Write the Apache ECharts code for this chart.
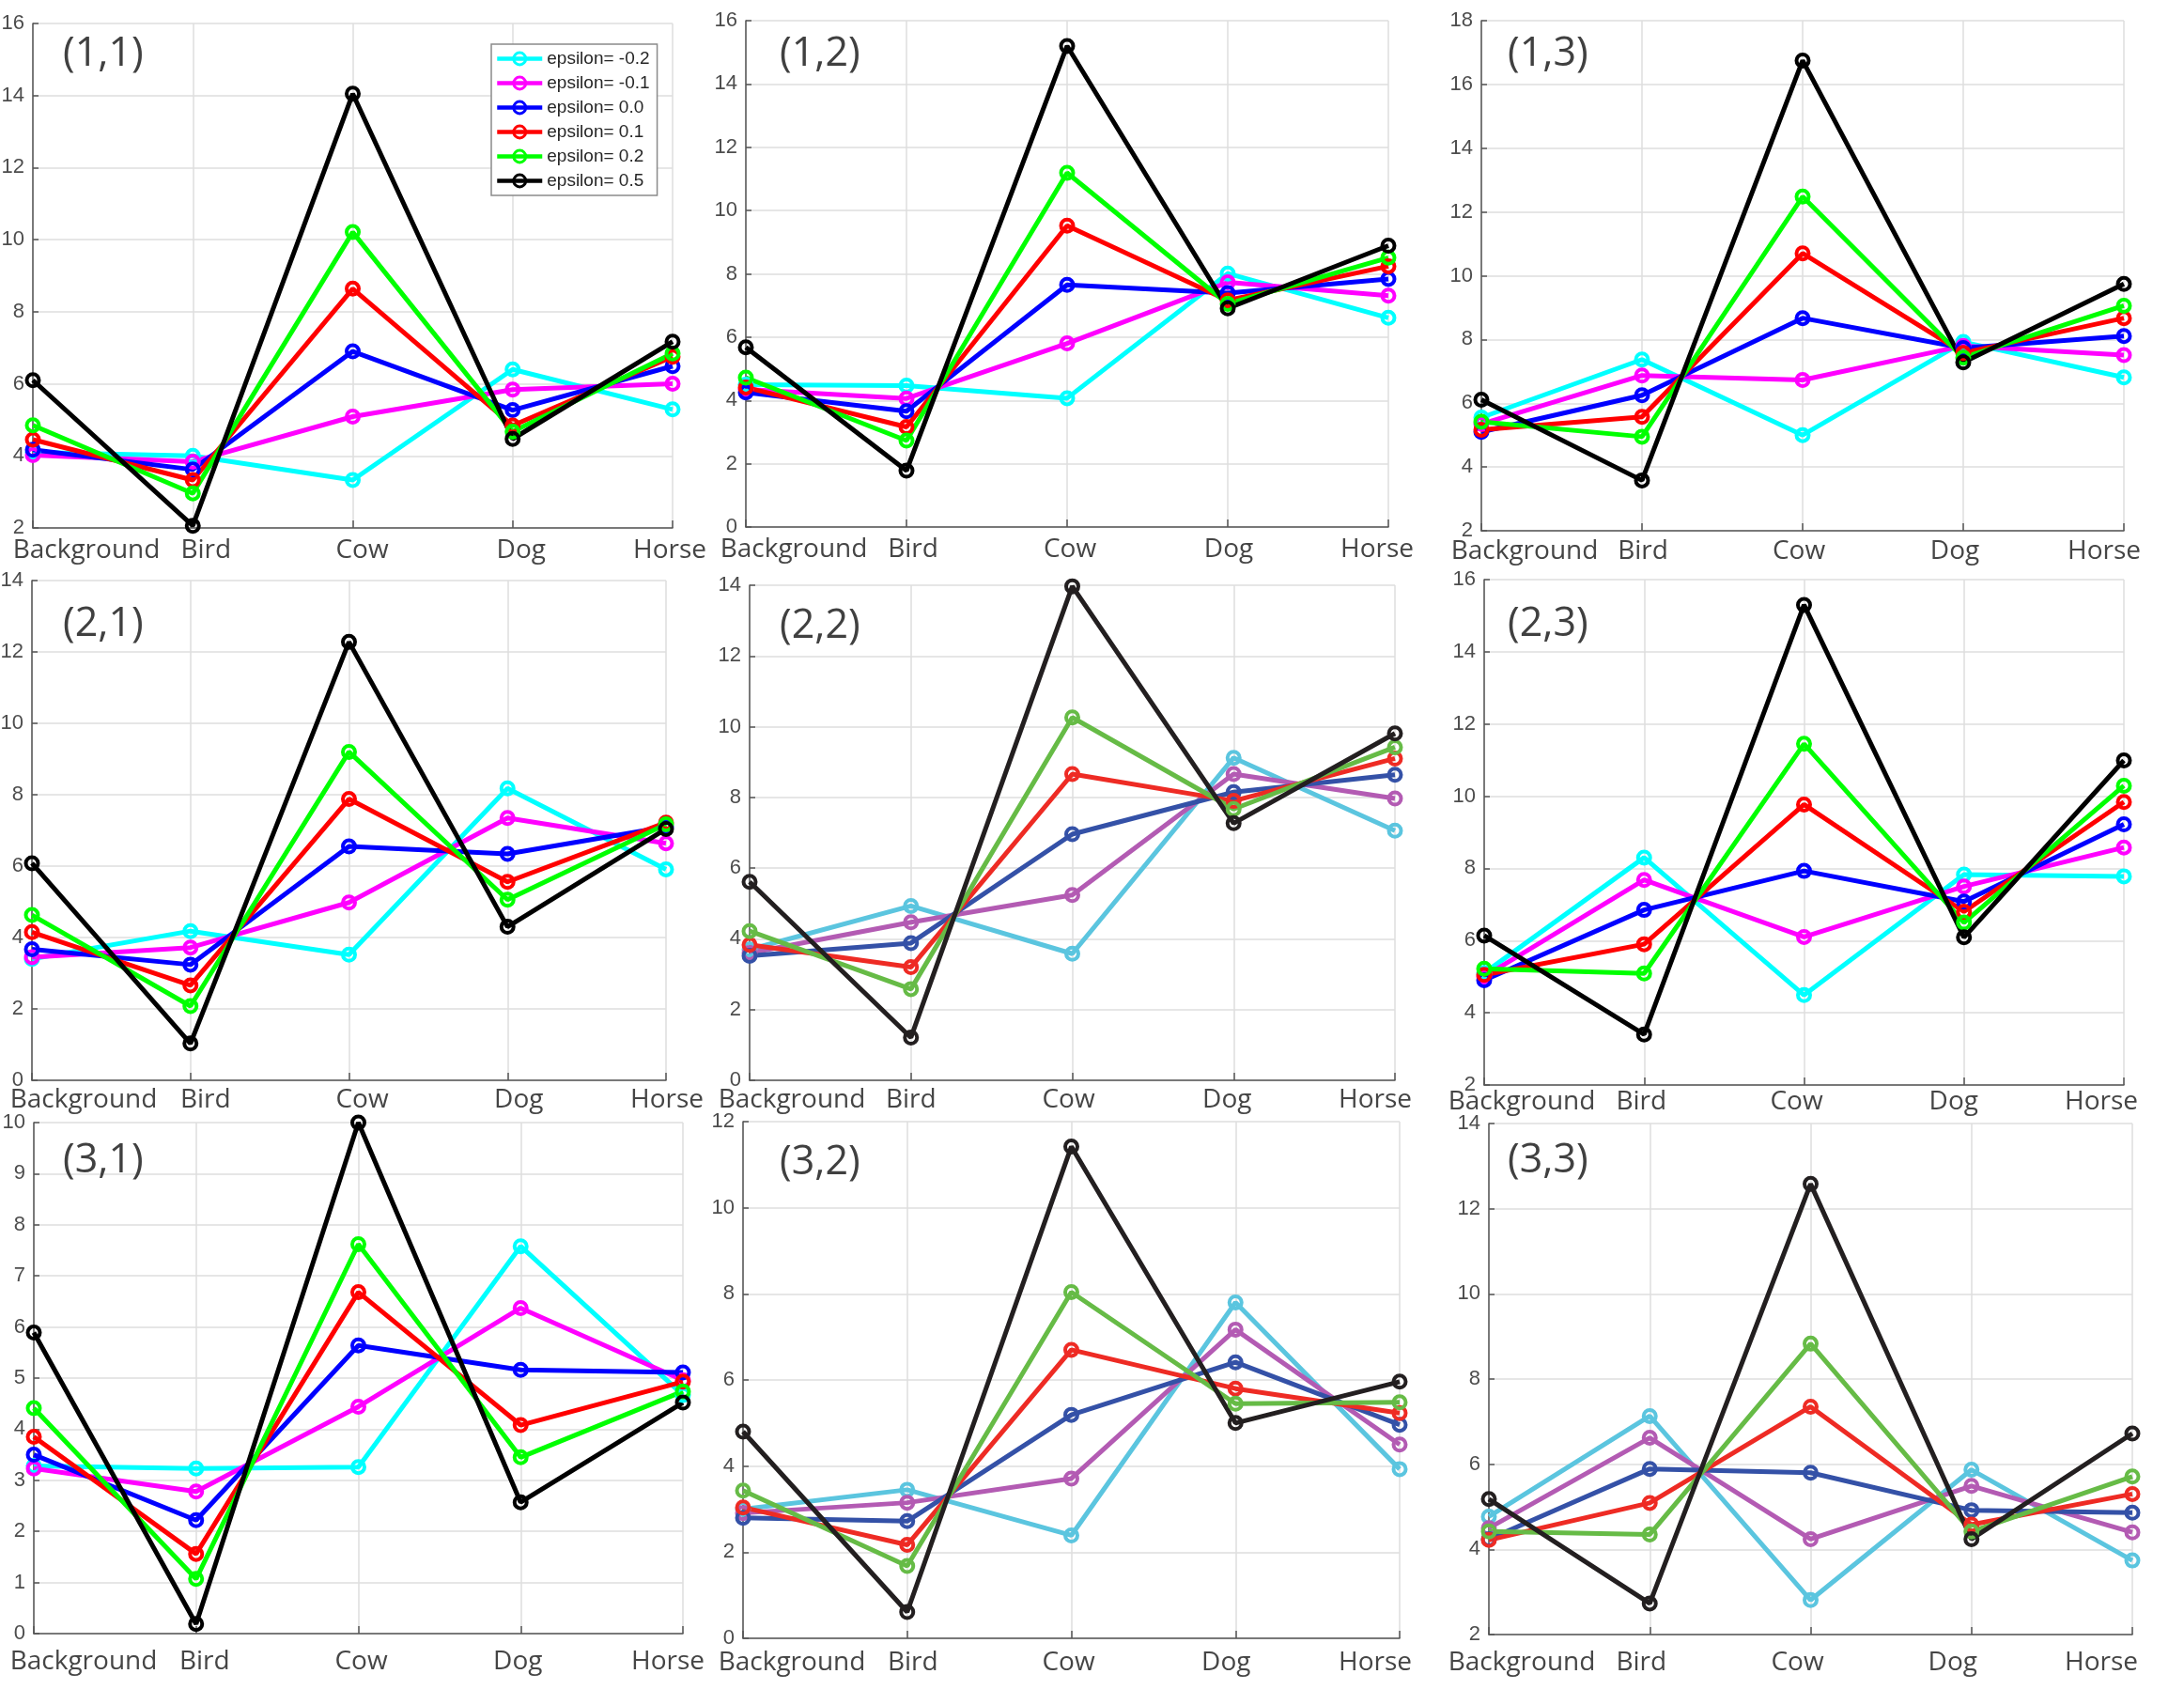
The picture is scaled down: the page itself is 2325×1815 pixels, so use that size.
<!DOCTYPE html>
<html><head><meta charset="utf-8">
<script src="https://cdn.jsdelivr.net/npm/echarts@6/dist/echarts.min.js"></script>
<style>html,body{margin:0;padding:0;background:#fff}#c{width:2325px;height:1815px}</style>
</head><body><div id="c"></div>
<script>
// ---------- data ----------
const categories = ['Background', 'Bird', 'Cow', 'Dog', 'Horse'];
const seriesNames = ['epsilon= -0.2', 'epsilon= -0.1', 'epsilon= 0.0', 'epsilon= 0.1', 'epsilon= 0.2', 'epsilon= 0.5'];
const panelLabels = ['(1,1)', '(1,2)', '(1,3)', '(2,1)', '(2,2)', '(2,3)', '(3,1)', '(3,2)', '(3,3)'];
const yMin = [2, 0, 2, 0, 0, 2, 0, 0, 2];
const yMax = [16, 16, 18, 14, 14, 16, 10, 12, 14];
const yStep = [2, 2, 2, 2, 2, 2, 1, 2, 2];

// rows: eps -0.2, -0.1, 0.0, 0.1, 0.2, 0.5 ; columns: categories
const panel11 = [
  [4.10, 4.00, 3.33, 6.40, 5.29],
  [4.02, 3.84, 5.09, 5.84, 6.00],
  [4.17, 3.62, 6.90, 5.27, 6.49],
  [4.45, 3.33, 8.64, 4.84, 6.75],
  [4.85, 2.96, 10.21, 4.67, 6.84],
  [6.10, 2.06, 14.05, 4.47, 7.17]
];
const panel12 = [
  [4.50, 4.47, 4.07, 8.01, 6.61],
  [4.35, 4.06, 5.80, 7.73, 7.31],
  [4.25, 3.66, 7.65, 7.39, 7.84],
  [4.41, 3.16, 9.52, 7.16, 8.24],
  [4.72, 2.73, 11.19, 7.05, 8.51],
  [5.68, 1.78, 15.20, 6.91, 8.89]
];
const panel13 = [
  [5.55, 7.37, 5.00, 7.92, 6.81],
  [5.35, 6.87, 6.73, 7.80, 7.51],
  [5.10, 6.25, 8.67, 7.73, 8.11],
  [5.17, 5.57, 10.70, 7.58, 8.67],
  [5.42, 4.95, 12.48, 7.43, 9.06],
  [6.11, 3.58, 16.75, 7.28, 9.74]
];
const panel21 = [
  [3.40, 4.18, 3.52, 8.18, 5.91],
  [3.45, 3.72, 4.98, 7.35, 6.64],
  [3.67, 3.24, 6.55, 6.34, 7.10],
  [4.15, 2.66, 7.88, 5.56, 7.22],
  [4.63, 2.08, 9.20, 5.06, 7.17],
  [6.08, 1.03, 12.28, 4.30, 7.04]
];
const panel22 = [
  [3.70, 4.93, 3.58, 9.12, 7.06],
  [3.60, 4.47, 5.24, 8.66, 7.97],
  [3.52, 3.88, 6.96, 8.15, 8.64],
  [3.83, 3.20, 8.66, 7.90, 9.10],
  [4.22, 2.58, 10.26, 7.67, 9.42],
  [5.61, 1.21, 13.97, 7.27, 9.81]
];
const panel23 = [
  [5.10, 8.30, 4.49, 7.83, 7.78],
  [5.00, 7.68, 6.10, 7.50, 8.58],
  [4.90, 6.85, 7.93, 7.08, 9.22],
  [5.05, 5.90, 9.77, 6.80, 9.84],
  [5.22, 5.09, 11.45, 6.50, 10.29],
  [6.14, 3.40, 15.30, 6.09, 10.99]
];
const panel31 = [
  [3.28, 3.23, 3.26, 7.58, 4.67],
  [3.23, 2.78, 4.44, 6.37, 4.96],
  [3.50, 2.22, 5.64, 5.16, 5.11],
  [3.85, 1.56, 6.68, 4.08, 4.93],
  [4.41, 1.07, 7.62, 3.45, 4.74],
  [5.89, 0.19, 10.00, 2.57, 4.52]
];
const panel32 = [
  [3.00, 3.45, 2.39, 7.80, 3.93],
  [2.91, 3.15, 3.71, 7.17, 4.50],
  [2.80, 2.72, 5.19, 6.41, 4.96],
  [3.04, 2.17, 6.70, 5.80, 5.23],
  [3.43, 1.68, 8.04, 5.45, 5.48],
  [4.80, 0.61, 11.42, 5.00, 5.96]
];
const panel33 = [
  [4.77, 7.13, 2.81, 5.87, 3.74],
  [4.50, 6.62, 4.24, 5.49, 4.40],
  [4.24, 5.89, 5.80, 4.92, 4.86],
  [4.22, 5.09, 7.35, 4.58, 5.30],
  [4.42, 4.35, 8.83, 4.42, 5.71],
  [5.18, 2.73, 12.58, 4.24, 6.72]
];
const panelData = [panel11, panel12, panel13, panel21, panel22, panel23, panel31, panel32, panel33];

// ---------- styles / layout ----------
const brightColors = ['#00FFFF', '#FF00FF', '#0000FF', '#FF0000', '#00FF00', '#000000'];
const mutedColors = ['#5BC5DF', '#B35BB3', '#3451A7', '#EE2B24', '#66BB46', '#231F20'];
const panelPalette = [brightColors, brightColors, brightColors, brightColors, mutedColors, brightColors, brightColors, mutedColors, mutedColors];

const layout = [
  {l: 35, t: 25, r: 716, b: 562, m: 8, tx: 67, ty: 36, sh: [57, 14, 10, 9, -3]},
  {l: 794, t: 22, r: 1478, b: 561, m: 8, tx: 830, ty: 36, sh: [51, 7, 3, 1, -12]},
  {l: 1577, t: 22, r: 2261, b: 565, m: 6, tx: 1605, ty: 36, sh: [46, 1, -4, -9, -21]},
  {l: 34, t: 618, r: 709, b: 1150, m: 5, tx: 67, ty: 643, sh: [55, 16, 14, 12, 1]},
  {l: 798, t: 623, r: 1485, b: 1150, m: 5, tx: 830, ty: 645, sh: [45, 0, -4, -7, -21]},
  {l: 1580, t: 617, r: 2261, b: 1155, m: 2, tx: 1605, ty: 643, sh: [40, -3, -8, -11, -24]},
  {l: 36, t: 1195, r: 727, b: 1739, m: 14, tx: 67, ty: 1214, sh: [53, 9, 3, -3, -16]},
  {l: 791, t: 1194, r: 1490, b: 1744, m: 10, tx: 830, ty: 1216, sh: [52, 6, -3, -10, -26]},
  {l: 1585, t: 1196, r: 2270, b: 1740, m: 14, tx: 1605, ty: 1214, sh: [35, -9, -14, -20, -33]}
];

const axisColor = '#555555';
const gridColor = '#dedede';

const grids = [], xAxes = [], yAxes = [], titles = [], series = [];
layout.forEach((L, p) => {
  grids.push({left: L.l, top: L.t, width: L.r - L.l, height: L.b - L.t, containLabel: false, outerBoundsMode: 'none'});
  const rich = {};
  L.sh.forEach((s, i) => {
    rich['c' + i] = {
      fontFamily: 'Open Sans', fontSize: 28, color: '#454545', lineHeight: 32,
      padding: s >= 0 ? [0, 0, 0, 2 * s] : [0, -2 * s, 0, 0]
    };
  });
  xAxes.push({
    type: 'category', gridIndex: p, data: categories, boundaryGap: false,
    axisLine: {lineStyle: {color: axisColor, width: 1.5}},
    axisTick: {inside: true, length: 8, lineStyle: {color: axisColor, width: 1.5}},
    splitLine: {show: true, lineStyle: {color: gridColor, width: 1.5}},
    axisLabel: {
      margin: L.m, interval: 0, hideOverlap: false,
      formatter: (v, i) => '{c' + i + '|' + v + '}',
      rich: rich
    }
  });
  yAxes.push({
    type: 'value', gridIndex: p, min: yMin[p], max: yMax[p], interval: yStep[p],
    axisLine: {show: true, lineStyle: {color: axisColor, width: 1.5}},
    axisTick: {show: true, inside: true, length: 6, lineStyle: {color: axisColor, width: 1.5}},
    splitLine: {show: true, lineStyle: {color: gridColor, width: 1.5}},
    axisLabel: {fontFamily: 'Liberation Sans', fontSize: 22, color: '#4d4d4d', margin: 9, hideOverlap: false}
  });
  titles.push({
    text: panelLabels[p], left: L.tx, top: L.ty, padding: 0,
    textStyle: {fontFamily: 'Open Sans', fontSize: 43, fontWeight: 'normal', color: '#404040'}
  });
  const pal = panelPalette[p];
  panelData[p].forEach((vals, k) => {
    series.push({
      type: 'line', name: seriesNames[k], xAxisIndex: p, yAxisIndex: p,
      data: vals, clip: false,
      symbol: 'circle', symbolSize: 13, showSymbol: true,
      lineStyle: {color: pal[k], width: 5},
      itemStyle: {color: 'rgba(0,0,0,0)', borderColor: pal[k], borderWidth: 4},
      emphasis: {disabled: true},
      animation: false
    });
  });
});

const legendData = seriesNames.map((n, k) => ({
  name: n,
  itemStyle: {color: 'rgba(0,0,0,0)', borderColor: brightColors[k], borderWidth: 3},
  lineStyle: {color: brightColors[k], width: 4.5}
}));

const chart = echarts.init(document.getElementById('c'), null, {renderer: 'canvas'});
chart.setOption({
  backgroundColor: '#ffffff',
  animation: false,
  title: titles,
  grid: grids,
  xAxis: xAxes,
  yAxis: yAxes,
  legend: {
    orient: 'vertical', left: 523, top: 47, data: legendData,
    itemWidth: 48, itemHeight: 16, itemGap: 7, padding: [6, 8, 6, 4],
    borderColor: '#8a8a8a', borderWidth: 1.5, backgroundColor: '#ffffff',
    textStyle: {fontFamily: 'Liberation Sans', fontSize: 19, color: '#262626'},
    selectedMode: false
  },
  series: series
});
</script>
</body></html>
